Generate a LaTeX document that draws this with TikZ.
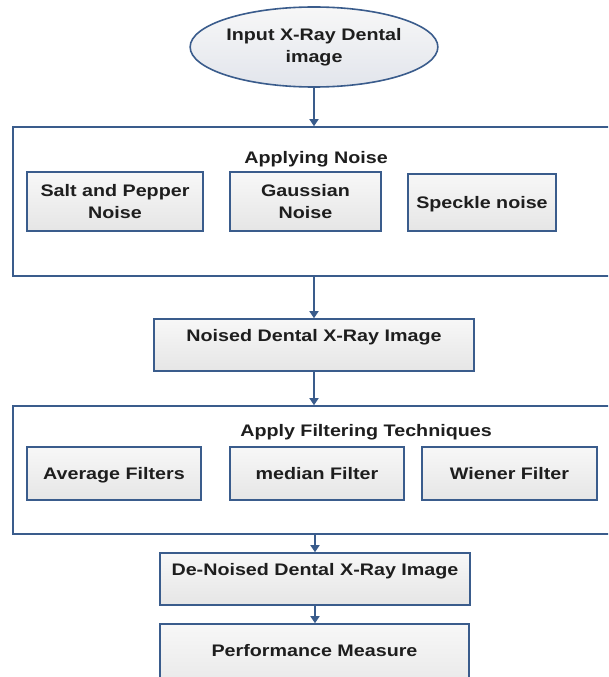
\documentclass[tikz,border=0pt]{standalone}
\usepackage{fontspec}
\setmainfont{Liberation Sans}[FakeStretch=1.18]
\usetikzlibrary{arrows.meta,shapes.geometric,shadows}
\definecolor{edge}{RGB}{58,92,140}
\definecolor{txt}{RGB}{30,30,30}
\definecolor{ovalbot}{RGB}{226,229,236}
\tikzset{
  base/.style={font=\bfseries\fontsize{16.7}{22}\selectfont, text=txt, align=center, inner sep=0pt},
  one/.style={text height=12pt, text depth=0pt},
  box/.style={base, draw=edge, line width=1.6pt, rectangle, top color=white!97!black, bottom color=white!90!black,
    drop shadow={opacity=0.2, shadow xshift=1.2pt, shadow yshift=-1.2pt}},
  container/.style={draw=edge, line width=1.6pt, rectangle, fill=white, inner sep=0pt},
  oval/.style={base, ellipse, draw=edge, line width=1.6pt, top color=white!97!black, bottom color=ovalbot},
  lbl/.style={base, one},
  conn/.style={draw=edge, line width=1.6pt, -{Triangle[width=9pt,length=7pt]}}
}
\begin{document}
\begin{tikzpicture}[x=1pt,y=-1pt]
\path[use as bounding box] (0,0) rectangle (608,677);
\clip (0,0) rectangle (608,677);
\node[oval, minimum width=218pt, minimum height=80pt] (inp) at (314,47) {Input X-Ray Dental\\image};

\node[container, minimum width=607pt, minimum height=149pt] (c1) at (316.5,201.5) {};
\node[lbl] (t1) at (316,157) {Applying Noise};
\node[box, minimum width=176pt, minimum height=59pt] (salt) at (115,201.5) {Salt and Pepper\\Noise};
\node[box, minimum width=151pt, minimum height=59pt] (gauss) at (305.5,201.5) {Gaussian\\Noise};
\node[box, one, minimum width=148pt, minimum height=57pt] (speck) at (482,202.5) {Speckle noise};

\node[box, minimum width=320pt, minimum height=52pt] (noised) at (314,345) {};
\node[lbl] (noisedt) at (314,335) {Noised Dental X-Ray Image};

\node[container, minimum width=607pt, minimum height=128pt] (c2) at (316.5,470) {};
\node[lbl] (t2) at (366,430) {Apply Filtering Techniques};
\node[box, one, minimum width=174pt, minimum height=53pt] (avg) at (114,473.5) {Average Filters};
\node[box, one, minimum width=174pt, minimum height=53pt] (med) at (317,473.5) {median Filter};
\node[box, one, minimum width=175pt, minimum height=53pt] (wien) at (509.5,473.5) {Wiener Filter};

\node[box, minimum width=310pt, minimum height=52pt] (den) at (315,579) {};
\node[lbl] (dent) at (315,569) {De-Noised Dental X-Ray Image};

\node[box, minimum width=309pt, minimum height=76pt] (perf) at (314.5,662) {};
\node[lbl] (perft) at (314.5,650) {Performance Measure};

\draw[conn] (inp.south) -- (inp.south |- c1.north);
\draw[conn] (c1.south -| noised.north) -- (noised.north);
\draw[conn] (noised.south) -- (noised.south |- c2.north);
\draw[conn] (c2.south -| den.north) -- (den.north);
\draw[conn] (den.south) -- (den.south |- perf.north);
\end{tikzpicture}
\end{document}
